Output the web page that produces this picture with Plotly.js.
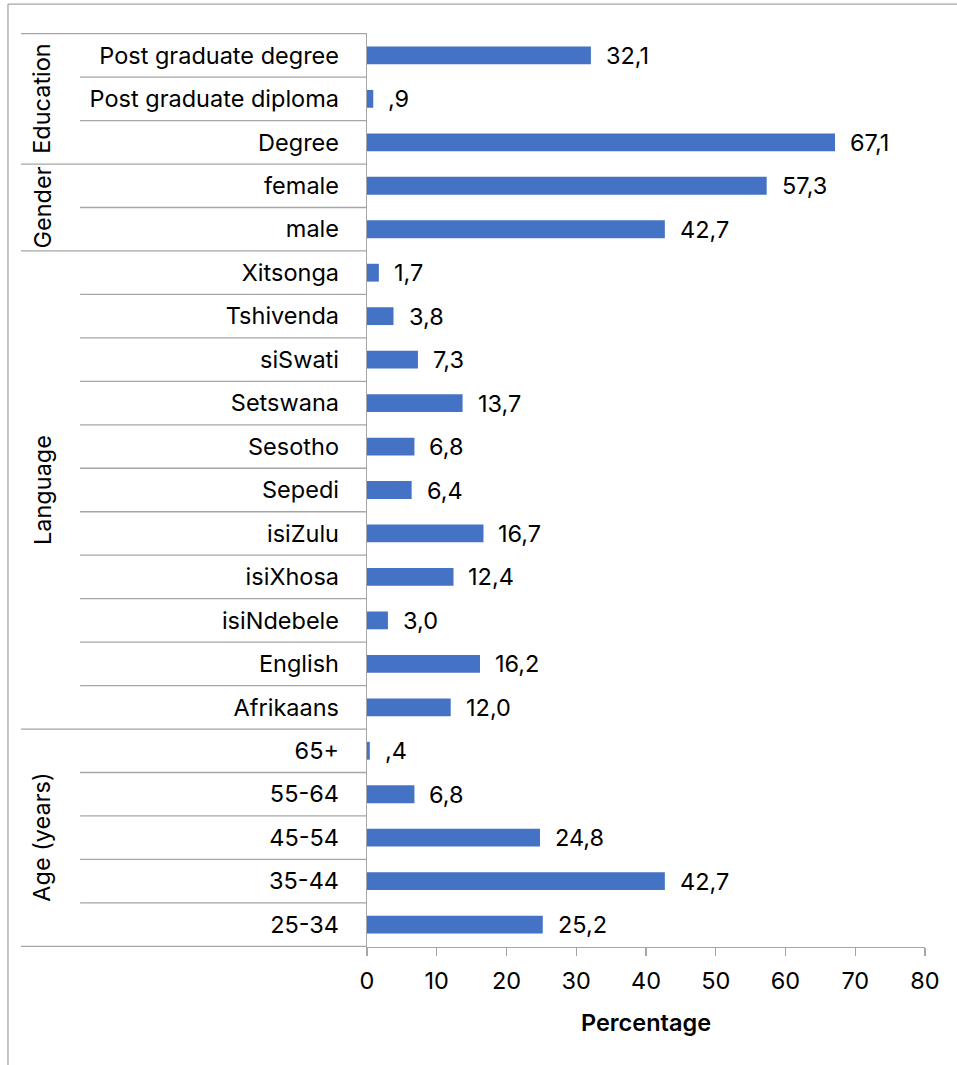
<!DOCTYPE html>
<html>
<head>
<meta charset="utf-8">
<script src="https://cdn.plot.ly/plotly-3.0.1.min.js"></script>
<style>html,body{margin:0;padding:0;background:#fff;}#chart{width:957px;height:1065px;}</style>
</head>
<body>
<div id="chart"></div>
<script>
// Categories top to bottom
const categories = ["Post graduate degree","Post graduate diploma","Degree","female","male",
  "Xitsonga","Tshivenda","siSwati","Setswana","Sesotho","Sepedi","isiZulu","isiXhosa","isiNdebele","English","Afrikaans",
  "65+","55-64","45-54","35-44","25-34"];
const values = [32.1, 0.9, 67.1, 57.3, 42.7,
  1.7, 3.8, 7.3, 13.7, 6.8, 6.4, 16.7, 12.4, 3.0, 16.2, 12.0,
  0.4, 6.8, 24.8, 42.7, 25.2];
const groupNames = ["Education","Gender","Language","Age (years)"];
const groupFirst = ["Post graduate degree","female","Xitsonga","65+"];
const groupLast = ["Degree","male","Afrikaans","25-34"];
const xTicks = [0,10,20,30,40,50,60,70,80];

const FONT = "Inter, 'DejaVu Sans', sans-serif";
const FS = 23.5;
const GRAY = "#a6a6a6";

function fmt(v){
  const s = v.toFixed(1).replace('.', ',');
  return s.startsWith('0,') ? s.slice(1) : s;
}

const trace = {
  type: 'bar', orientation: 'h',
  x: values, y: categories,
  marker: {color: '#4472C4'},
  hoverinfo: 'x+y'
};

const shapes = [];
const annotations = [];
const groupIdx = groupFirst.map(c => categories.indexOf(c));
const groupEnd = groupLast.map(c => categories.indexOf(c));
// horizontal divider lines in the label area
for (let b = -0.5; b <= categories.length - 0.5; b += 1) {
  const isGroup = (b === -0.5) || groupEnd.some(e => e + 0.5 === b);
  shapes.push({type:'line', xref:'paper', yref:'y', x0: isGroup ? -0.6201 : -0.5143, x1: 0, y0: b, y1: b,
    line:{color: GRAY, width: 1.3}});
}
// outer frame
shapes.push({type:'line', xref:'paper', yref:'paper', x0:-0.6434, x1:-0.6434, y0:1.0317, y1:-0.15, line:{color:GRAY, width:1.3}});
shapes.push({type:'line', xref:'paper', yref:'paper', x0:-0.6434, x1:1.1, y0:1.0317, y1:1.0317, line:{color:GRAY, width:1.3}});

// group labels
groupNames.forEach((g, i) => {
  annotations.push({xref:'paper', yref:'y', x:-0.5824, y:(groupIdx[i] + groupEnd[i]) / 2,
    text: g, textangle: -90, showarrow:false, xanchor:'center', yanchor:'middle',
    font:{family: FONT, size: FS, color:'#000'}});
});
// value labels
values.forEach((v, i) => {
  annotations.push({xref:'x', yref:'y', x: v, y: categories[i], text: fmt(v), showarrow:false,
    xanchor:'left', yanchor:'middle', xshift: 13, font:{family: FONT, size: FS, color:'#000'}});
});

const layout = {
  width: 957, height: 1065,
  margin: {l: 367, r: 32, t: 33, b: 118},
  paper_bgcolor: '#fff', plot_bgcolor: '#fff',
  showlegend: false,
  bargap: 0.59,
  font: {family: FONT, size: FS, color: '#000'},
  xaxis: {
    range: [0, 80], tickvals: xTicks, ticktext: xTicks.map(String),
    showgrid: false, zeroline: false,
    showline: true, linecolor: GRAY, linewidth: 1.3,
    ticks: 'outside', ticklen: 8, tickcolor: GRAY, tickwidth: 1.3,
    ticklabelstandoff: 4,
    tickfont: {family: FONT, size: FS, color: '#000'},
    title: {text: 'Percentage', font: {family: FONT, size: FS, color: '#000', weight: 600}, standoff: 21},
    fixedrange: true
  },
  yaxis: {
    type: 'category', categoryorder: 'array', categoryarray: categories,
    autorange: 'reversed',
    showgrid: false, zeroline: false,
    showline: true, linecolor: GRAY, linewidth: 1.3,
    ticks: '', ticklabelstandoff: 22,
    tickfont: {family: FONT, size: FS, color: '#000'},
    fixedrange: true
  },
  shapes: shapes,
  annotations: annotations
};

Plotly.newPlot('chart', [trace], layout, {displayModeBar: false, staticPlot: true});
</script>
</body>
</html>
